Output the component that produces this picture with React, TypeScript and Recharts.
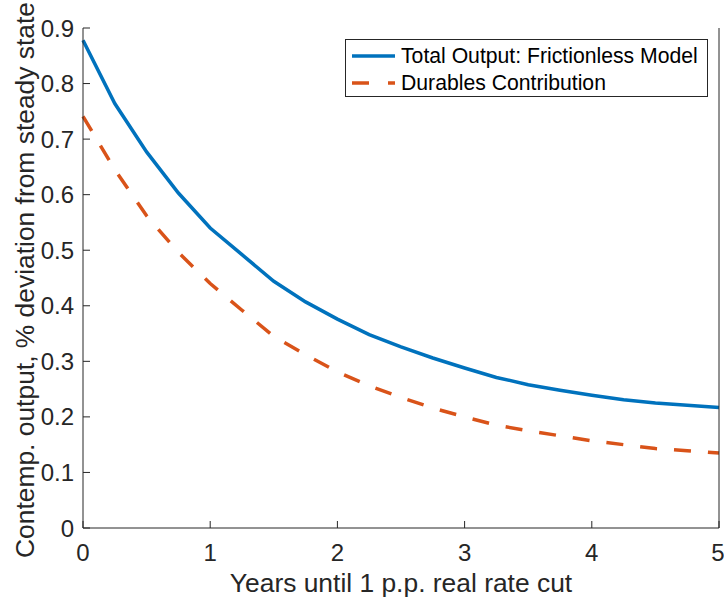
import React from "react";
import { LineChart, Line, XAxis, YAxis, Legend } from "recharts";

// years until the 1 p.p. real rate cut (quarterly)
const years = [
  0, 0.25, 0.5, 0.75, 1, 1.25, 1.5, 1.75, 2, 2.25, 2.5, 2.75, 3, 3.25, 3.5,
  3.75, 4, 4.25, 4.5, 4.75, 5,
];
const totalOutput = [
  0.878, 0.764, 0.677, 0.603, 0.54, 0.492, 0.444, 0.407, 0.376, 0.348, 0.326,
  0.306, 0.288, 0.271, 0.258, 0.248, 0.239, 0.231, 0.225, 0.221, 0.217,
];
const durables = [
  0.741, 0.645, 0.562, 0.496, 0.44, 0.392, 0.345, 0.312, 0.281, 0.256, 0.235,
  0.216, 0.2, 0.185, 0.175, 0.166, 0.157, 0.15, 0.143, 0.139, 0.135,
];
const xTicks = [0, 1, 2, 3, 4, 5];
const yTicks = [0, 0.1, 0.2, 0.3, 0.4, 0.5, 0.6, 0.7, 0.8, 0.9];

const data = years.map((t, i) => ({
  t,
  total: totalOutput[i],
  durables: durables[i],
}));

const AXIS = "#262626";
const BLUE = "#0072BD";
const ORANGE = "#D95319";
const FONT = "'Liberation Sans', Arial, sans-serif";

const tickStyle = { fontSize: 24, fill: AXIS, fontFamily: FONT };

const LegendBox = () => (
  <div
    style={{
      width: 361,
      height: 56,
      border: `1px solid ${AXIS}`,
      background: "#fff",
      fontFamily: FONT,
      fontSize: 21.2,
      color: "#000",
      boxSizing: "content-box",
    }}
  >
    {[
      { label: "Total Output: Frictionless Model", color: BLUE, dash: undefined },
      { label: "Durables Contribution", color: ORANGE, dash: "17 19" },
    ].map((item, i) => (
      <div
        key={item.label}
        style={{
          display: "flex",
          alignItems: "center",
          height: 27,
          marginTop: i === 0 ? 2 : 0,
        }}
      >
        <svg width={55} height={10} style={{ flex: "none" }}>
          <line
            x1={6}
            x2={49}
            y1={5}
            y2={5}
            stroke={item.color}
            strokeWidth={3.5}
            strokeDasharray={item.dash}
          />
        </svg>
        <span style={{ whiteSpace: "nowrap" }}>{item.label}</span>
      </div>
    ))}
  </div>
);

export default function App() {
  return (
    <div style={{ position: "absolute", left: 0, top: 0, background: "#fff" }}>
      <LineChart
        width={724}
        height={599}
        data={data}
        margin={{ top: 28, right: 0, bottom: 0, left: 0 }}
        style={{ fontFamily: FONT }}
      >
        <XAxis
          xAxisId="bottom"
          dataKey="t"
          type="number"
          domain={[0, 5]}
          ticks={xTicks}
          height={71}
          stroke={AXIS}
          tickSize={-7}
          tickMargin={23}
          tick={tickStyle}
          label={{
            value: "Years until 1 p.p. real rate cut",
            position: "center",
            dy: 19,
            style: { fontSize: 26.4, fill: AXIS, fontFamily: FONT },
          }}
        />
        <XAxis
          xAxisId="top"
          orientation="top"
          dataKey="t"
          type="number"
          domain={[0, 5]}
          ticks={xTicks}
          height={0}
          stroke={AXIS}
          tickSize={-7}
          tick={() => <g />}
        />
        <YAxis
          yAxisId="left"
          type="number"
          domain={[0, 0.9]}
          ticks={yTicks}
          width={83}
          stroke={AXIS}
          tickSize={-7}
          tickMargin={16}
          tick={tickStyle}
          label={{
            value: "Contemp. output, % deviation from steady state",
            angle: -90,
            position: "center",
            dx: -16.5,
            dy: 2,
            style: { fontSize: 26.4, fill: AXIS, fontFamily: FONT },
          }}
        />
        <YAxis
          yAxisId="right"
          orientation="right"
          type="number"
          domain={[0, 0.9]}
          ticks={yTicks}
          width={5}
          stroke={AXIS}
          tickSize={-7}
          tick={() => <g />}
        />
        <Legend
          layout="vertical"
          align="center"
          verticalAlign="middle"
          wrapperStyle={{ left: 345, top: 39, width: "auto" }}
          content={() => <LegendBox />}
        />
        <Line
          xAxisId="bottom"
          yAxisId="left"
          type="linear"
          dataKey="total"
          stroke={BLUE}
          strokeWidth={3.5}
          dot={false}
          isAnimationActive={false}
        />
        <Line
          xAxisId="bottom"
          yAxisId="left"
          type="linear"
          dataKey="durables"
          stroke={ORANGE}
          strokeWidth={3.5}
          strokeDasharray="17 17"
          dot={false}
          isAnimationActive={false}
        />
      </LineChart>
    </div>
  );
}
